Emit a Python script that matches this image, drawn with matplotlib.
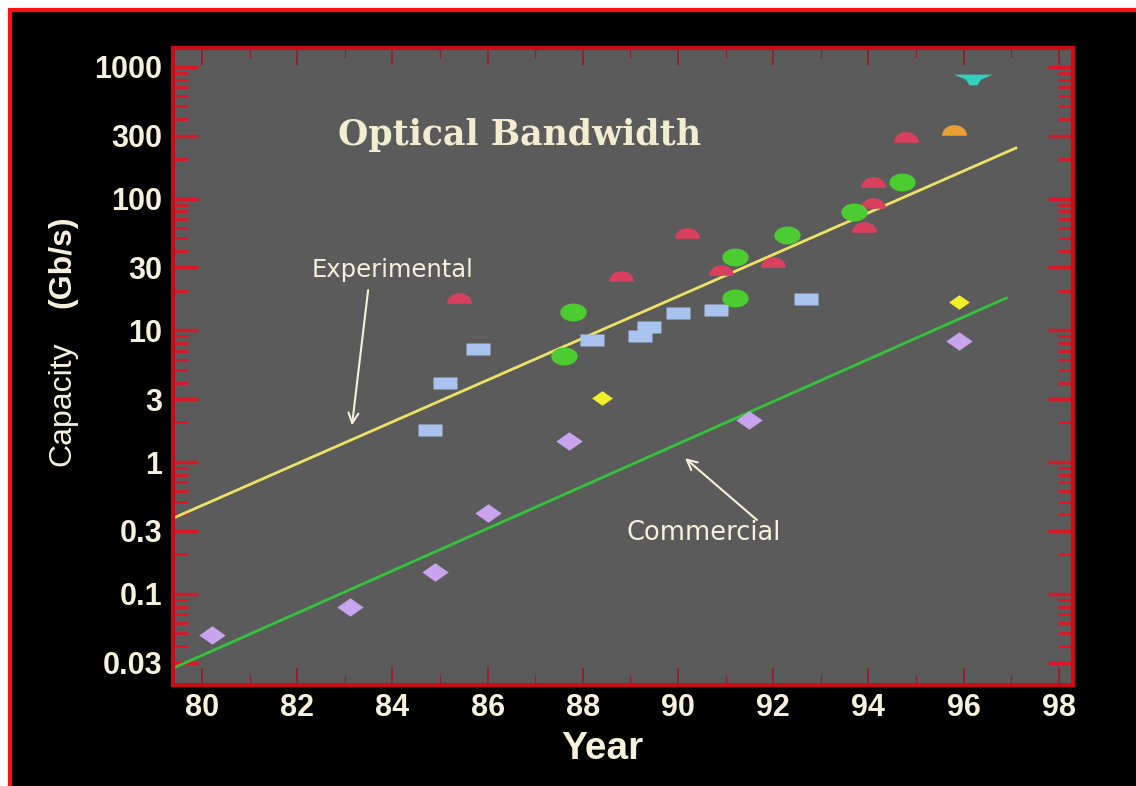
import numpy as np
import matplotlib
matplotlib.use("Agg")
from matplotlib import pyplot as plt
from matplotlib.patches import Rectangle
from matplotlib.ticker import FixedLocator, LogLocator, NullFormatter, MultipleLocator

# experimental records (red domes)
red_year = [85.4, 88.8, 90.2, 90.9, 92.0, 93.9, 94.1, 94.1, 94.8]
red_cap = [17.6, 25.8, 54.8, 28.6, 33.0, 61, 92, 133, 294]
# WDM (green ellipses)
green_year = [87.6, 87.8, 91.2, 91.2, 92.3, 93.7, 94.7]
green_cap = [6.4, 13.8, 17.6, 36, 53, 79, 134]
# TDM (blue bars)
blue_year = [84.8, 85.1, 85.8, 88.2, 89.2, 89.4, 90.0, 90.8, 92.7]
blue_cap = [1.75, 4.0, 7.2, 8.4, 9.1, 10.6, 13.5, 14.3, 17.3]
# commercial systems (purple diamonds)
purple_year = [80.2, 83.1, 84.9, 86.0, 87.7, 91.5, 95.9]
purple_cap = [0.049, 0.079, 0.146, 0.41, 1.44, 2.09, 8.3]
yellow_year = [88.4, 95.9]
yellow_cap = [3.06, 16.4]
orange_year = [95.8]
orange_cap = [331]
cyan_year = [96.2]
cyan_cap = [824]
# trend lines
exp_year = [79.4, 97.1]
exp_cap = [0.376, 242]
com_year = [79.4, 96.9]
com_cap = [0.0273, 17.6]

yticks = [0.03, 0.1, 0.3, 1, 3, 10, 30, 100, 300, 1000]
ylabels = ['0.03', '0.1', '0.3', '1', '3', '10', '30', '100', '300', '1000']
xticks = [80, 82, 84, 86, 88, 90, 92, 94, 96, 98]

cream = '#f5f1dc'
tickred = '#d81828'

dome = [(np.cos(t), 0.85 * np.sin(t) - 0.42) for t in np.linspace(0, np.pi, 24)]
ellipse = [(np.cos(t), 0.68 * np.sin(t)) for t in np.linspace(0, 2 * np.pi, 30)]
bar = [(-1, -0.5), (1, -0.5), (1, 0.5), (-1, 0.5)]
diamond = [(-1, 0), (0, 0.7), (1, 0), (0, -0.7)]
hat = [(-1, 0.2), (1, 0.2), (0.4, -0.05), (0.2, -0.35), (-0.2, -0.35), (-0.4, -0.05)]

fig = plt.figure(figsize=(11.36, 7.86), dpi=100, facecolor='white')
fig.patches.append(Rectangle((10 / 1136, -0.1), 1.1, 1.1 - 10 / 786, transform=fig.transFigure,
                             facecolor='black', edgecolor='#ff1010', linewidth=3, zorder=-5))

ax = fig.add_axes([173 / 1136, 1 - 685 / 786, 900 / 1136, 637 / 786])
ax.set_facecolor('#5b5b5b')
ax.set_yscale('log')
ax.set_xlim(79.39, 98.3)
ax.set_ylim(0.0203, 1390)

ax.plot(exp_year, exp_cap, color='#eee266', lw=2)
ax.plot(com_year, com_cap, color='#33c43a', lw=2)

ax.plot(red_year, red_cap, ls='none', marker=dome, ms=18, color='#d8405e', mec='none')
ax.plot(orange_year, orange_cap, ls='none', marker=dome, ms=18, color='#e8a035', mec='none')
ax.plot(cyan_year, cyan_cap, ls='none', marker=hat, ms=28, color='#33cfc0', mec='none')
ax.plot(blue_year, blue_cap, ls='none', marker=bar, ms=17, color='#a9c3ef', mec='none')
ax.plot(green_year, green_cap, ls='none', marker=ellipse, ms=19, color='#4ccc30', mec='none')
ax.plot(purple_year, purple_cap, ls='none', marker=diamond, ms=19, color='#c9a3ee', mec='none')
ax.plot(yellow_year, yellow_cap, ls='none', marker=diamond, ms=15, color='#f2ef28', mec='none')

ax.text(86.66, 304, 'Optical Bandwidth', family='DejaVu Serif', fontweight='bold',
        fontsize=25, color='#f2ecd0', ha='center', va='center')

ax.text(84.01, 28.7, 'Experimental', color=cream, fontsize=17.5, family='DejaVu Sans',
        ha='center', va='center')
ax.annotate('', xy=(83.15, 1.9), xytext=(83.49, 20.2),
            arrowprops=dict(arrowstyle='->', color=cream, lw=1.5, shrinkA=0, shrinkB=0,
                            mutation_scale=18))
ax.text(90.53, 0.289, 'Commercial', color=cream, fontsize=18.5, family='DejaVu Sans',
        ha='center', va='center')
ax.annotate('', xy=(90.15, 1.07), xytext=(91.66, 0.363),
            arrowprops=dict(arrowstyle='->', color=cream, lw=1.5, shrinkA=0, shrinkB=0,
                            mutation_scale=18))

for s in ax.spines.values():
    s.set_color('#c80c18')
    s.set_linewidth(3)

ax.yaxis.set_major_locator(FixedLocator(yticks))
ax.set_yticklabels(ylabels)
ax.yaxis.set_minor_locator(LogLocator(base=10, subs=np.arange(1, 10), numticks=20))
ax.yaxis.set_minor_formatter(NullFormatter())
ax.set_xticks(xticks)
ax.xaxis.set_minor_locator(MultipleLocator(1))

ax.tick_params(which='both', direction='in', top=True, right=True, labelcolor=cream)
ax.tick_params(axis='y', which='major', length=18, width=2.5, pad=8, color=tickred)
ax.tick_params(axis='y', which='minor', length=11, width=2, color=tickred)
ax.tick_params(axis='x', which='major', length=12, width=1.2, pad=6, color='#9a1a26')
ax.tick_params(axis='x', which='minor', length=7, width=1, color='#8a2030')
for lab in ax.get_xticklabels() + ax.get_yticklabels():
    lab.set_family('Liberation Sans')
    lab.set_fontweight('bold')
    lab.set_fontsize(22)

ax.set_xlabel('Year', family='Liberation Sans', fontweight='bold', fontsize=28, color=cream)
ax.xaxis.set_label_coords(0.477, -0.072)
fig.text(0.0546, 0.486, 'Capacity', rotation=90, family='Liberation Sans', fontsize=23,
         color=cream, ha='center', va='center')
fig.text(0.0546, 0.667, '(Gb/s)', rotation=90, family='Liberation Sans', fontweight='bold',
         fontsize=23, color=cream, ha='center', va='center')

fig.savefig('out.png', dpi=100, facecolor='white')
